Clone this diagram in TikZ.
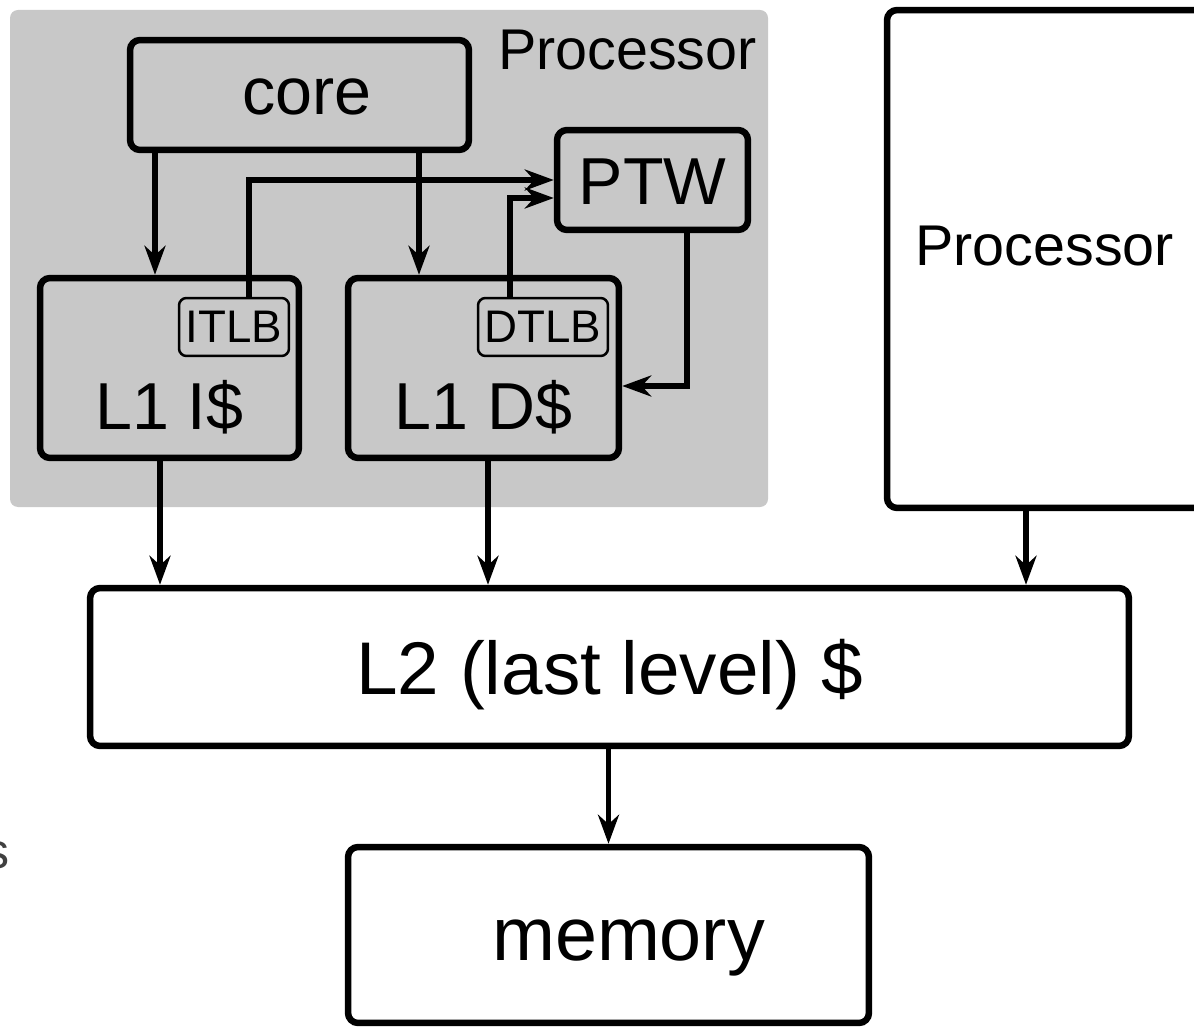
\documentclass[tikz,border=0pt]{standalone}
\usepackage{fontspec}
\setmainfont{Liberation Sans}
\usetikzlibrary{arrows.meta}
\definecolor{procgray}{RGB}{200,200,200}
\definecolor{txtgray}{RGB}{64,64,64}
\tikzset{
  box/.style={draw, line width=0.13cm, rounded corners=0.2cm, inner sep=0pt, font=\fontsize{37.8}{40}\selectfont},
  tlb/.style={draw, line width=0.05cm, rounded corners=0.15cm, inner sep=0pt, font=\fontsize{26}{28}\selectfont},
  arr/.style={line width=0.11cm, -{Stealth[length=0.58cm, width=0.42cm]}}
}
\begin{document}
\begin{tikzpicture}[x=0.02cm, y=-0.02cm]
        \useasboundingbox (0,0) rectangle (1194,1027);

        %processor (gray)
        \fill[procgray, rounded corners=0.16cm] (10,10) rectangle (768,507);
        \node[anchor=base east, inner sep=0pt, font=\fontsize{32.7}{35}\selectfont] (proclabel) at (757,70) {Processor};

        \node[box, minimum width=6.78cm, text height=1.5cm, text depth=0.7cm] (core) at (299.5,95) {\hspace{0.3cm}core};
        \node[box, minimum width=3.82cm, text height=1.5cm, text depth=0.5cm] (ptw) at (652.5,180) {PTW};
        \node[box, minimum width=5.18cm, text height=3.04cm, text depth=0.56cm] (l1i) at (169.5,368) {L1 I\$};
        \node[box, minimum width=5.42cm, text height=3.04cm, text depth=0.56cm] (l1d) at (483.5,368) {L1 D\$};
        \node[tlb, minimum width=2.2cm, text height=0.9cm, text depth=0.26cm] (itlb) at (234,327) {ITLB};
        \node[tlb, minimum width=2.6cm, text height=0.9cm, text depth=0.26cm] (dtlb) at (543,327) {DTLB};

        %other processor
        \node[box, minimum width=6.66cm, minimum height=9.96cm] (procb) at (1053.5,259) {};
        \node[anchor=base west, inner sep=0pt, font=\fontsize{32.7}{35}\selectfont] (procblabel) at (915,266) {Processor};

        %L2 and memory
        \node[box, minimum width=20.78cm, text height=2.14cm, text depth=1.02cm, font=\fontsize{42.5}{45}\selectfont] (l2) at (609.5,667) {L2 (last level) \$};
        \node[box, minimum width=10.42cm, text height=2.26cm, text depth=1.26cm, font=\fontsize{43}{45}\selectfont] (mem) at (608.5,935) {\hspace{0.8cm}memory};

        \node[anchor=base east, inner sep=0pt, text=txtgray, font=\fontsize{28.5}{30}\selectfont] (cut) at (10,868) {s};

        %arrows
        \draw[arr] (core.south -| 155,0) -- (l1i.north -| 155,0);
        \draw[arr] (core.south -| 419,0) -- (l1d.north -| 419,0);
        \draw[arr] (itlb.north -| 249,0) |- (ptw.west);
        \draw[arr] (dtlb.north -| 510,0) |- (ptw.west |- 0,198);
        \draw[arr] (ptw.south -| 687,0) |- (l1d.east |- 0,386);
        \draw[arr] (l1i.south -| 160,0) -- (l2.north -| 160,0);
        \draw[arr] (l1d.south -| 488,0) -- (l2.north -| 488,0);
        \draw[arr] (procb.south -| 1026,0) -- (l2.north -| 1026,0);
        \draw[arr] (l2.south -| mem.north) -- (mem.north);
    \end{tikzpicture}
\end{document}
